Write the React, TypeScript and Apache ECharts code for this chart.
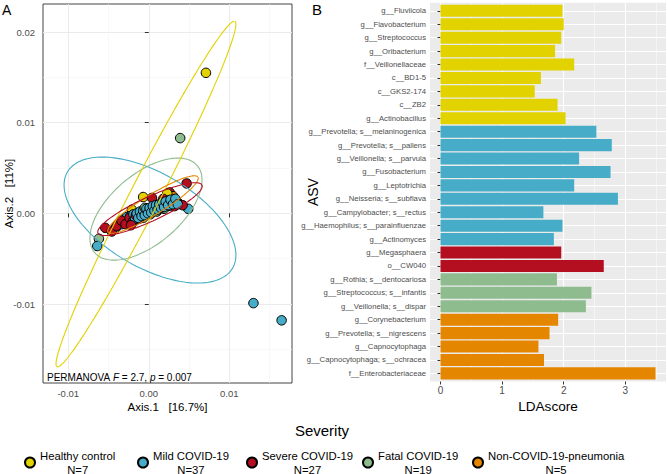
import React, { useEffect, useRef } from "react";
import * as echarts from "echarts";

const FONT = "'Liberation Sans', Arial, Helvetica, sans-serif";

// ---------- Legend groups ----------
const groupNames = ["Healthy control", "Mild COVID-19", "Severe COVID-19", "Fatal COVID-19", "Non-COVID-19-pneumonia"];
const groupCounts = [7, 37, 27, 19, 5];
const groupColors = ["#E2D200", "#46ACC8", "#B40F20", "#8FBC8F", "#E58601"];

// ---------- Panel A: PCoA points [Axis.1, Axis.2] ----------
const healthyPoints = [
  [0.0071, 0.0155], [-0.0007, 0.0018], [-0.0021, 0.0004], [0.0003, 0.0002],
  [0.0012, 0.0008], [-0.0013, -0.0003], [0.0023, 0.0022],
];
const mildPoints = [
  [0.013, -0.0099], [0.0165, -0.0118], [-0.0064, -0.0036], [0.0049, 0.0005],
  [-0.0034, -0.0012], [-0.0031, -0.0006], [-0.0029, -0.001], [-0.0027, -0.0004], [-0.0025, -0.0009],
  [-0.0023, -0.0003], [-0.0021, -0.0008], [-0.0019, -0.0001], [-0.0017, -0.0006], [-0.0015, 0.0],
  [-0.0013, -0.0005], [-0.0011, 0.0002], [-0.0009, -0.0003], [-0.0007, 0.0003], [-0.0005, -0.0002],
  [-0.0003, 0.0005], [-0.0001, 0.0], [0.0001, 0.0006], [0.0003, 0.0001], [0.0005, 0.0008],
  [0.0007, 0.0003], [0.0009, 0.0009], [0.0011, 0.0004], [0.0013, 0.001], [0.0015, 0.0006],
  [0.0017, 0.0012], [0.0019, 0.0007], [0.0021, 0.0013], [0.0024, 0.0009], [0.0027, 0.0015],
  [0.003, 0.001], [0.0033, 0.0016], [0.0036, 0.001],
];
const severePoints = [
  [0.0047, 0.0033], [0.0026, 0.0023], [-0.0054, -0.0016], [0.0036, 0.0012], [0.0042, 0.0009],
  [0.0004, 0.0017], [-0.0046, -0.002], [-0.004, -0.0014], [-0.0034, -0.0008], [-0.0029, -0.0012],
  [-0.0024, -0.0005], [-0.002, -0.0009], [-0.0016, -0.0002], [-0.0012, -0.0006], [-0.0008, 0.0001],
  [-0.0004, -0.0002], [0.0, 0.0005], [0.0004, 0.0002], [0.0008, 0.0008], [0.0012, 0.0005],
  [0.0016, 0.0011], [0.002, 0.0008], [0.0024, 0.0014], [0.0029, 0.0011], [0.0032, 0.0008],
  [-0.0022, -0.0013], [0.0018, 0.0016],
];
const fatalPoints = [
  [0.0039, 0.0083], [-0.0062, -0.0028], [-0.0041, -0.0016], [-0.0036, -0.001], [-0.003, -0.0008],
  [-0.0026, -0.0011], [-0.0021, -0.0004], [-0.0017, -0.0008], [-0.0012, -0.0001], [-0.0007, -0.0005],
  [-0.0003, 0.0003], [0.0002, -0.0001], [0.0006, 0.0006], [0.001, 0.0002], [0.0014, 0.0009],
  [0.0019, 0.0005], [0.0023, 0.0012], [0.0028, 0.0008], [-0.0005, 0.0006],
];
const pneumoniaPoints = [
  [0.0018, 0.0012], [0.0006, 0.0006], [-0.0012, -0.0004], [0.003, 0.0019], [-0.0028, -0.001],
];

// 95% ellipses: [centerX, centerY, semiAxis1X, semiAxis1Y, semiAxis2X, semiAxis2Y]
const healthyEllipse = [-0.00035, 0.00213, 0.01105, 0.01905, 0.00165, -0.00076];
const mildEllipse = [0.00015, -0.00074, 0.01026, -0.0053, -0.00294, -0.00449];
const severeEllipse = [0.00015, 0.00047, 0.00646, 0.00265, 0.00062, -0.0012];
const fatalEllipse = [-0.00035, 0.00047, 0.00637, 0.0048, 0.00281, -0.00294];
const pneumoniaEllipse = [0.00052, 0.00097, 0.00559, 0.00303, 0.00065, -0.00094];

const axis1Ticks = [-0.01, 0, 0.01];
const axis1Minor = [-0.015, -0.005, 0.005, 0.015];
const axis2Ticks = [-0.01, 0, 0.01, 0.02];
const axis2Minor = [-0.015, -0.005, 0.005, 0.015];

// ---------- Panel B: LEfSe ----------
const asvLabels = [
  "g__Fluviicola", "g__Flavobacterium", "g__Streptococcus", "g__Oribacterium", "f__Veillonellaceae",
  "c__BD1-5", "c__GKS2-174", "c__ZB2", "g__Actinobacillus",
  "g__Prevotella; s__melaninogenica", "g__Prevotella; s__pallens", "g__Veillonella; s__parvula",
  "g__Fusobacterium", "g__Leptotrichia", "g__Neisseria; s__subflava", "g__Campylobacter; s__rectus",
  "g__Haemophilus; s__parainfluenzae", "g__Actinomyces",
  "g__Megasphaera", "o__CW040",
  "g__Rothia; s__dentocariosa", "g__Streptococcus; s__infantis", "g__Veillonella; s__dispar",
  "g__Corynebacterium", "g__Prevotella; s__nigrescens", "g__Capnocytophaga",
  "g__Capnocytophaga; s__ochracea", "f__Enterobacteriaceae",
];
const ldaScores = [
  1.98, 2.0, 1.96, 1.86, 2.17, 1.63, 1.53, 1.9, 2.03,
  2.53, 2.78, 2.25, 2.76, 2.17, 2.88, 1.67, 1.98, 1.84,
  1.96, 2.65,
  1.89, 2.45, 2.36,
  1.91, 1.77, 1.59, 1.68, 3.49,
];
const asvGroup = [
  0, 0, 0, 0, 0, 0, 0, 0, 0,
  1, 1, 1, 1, 1, 1, 1, 1, 1,
  2, 2,
  3, 3, 3,
  4, 4, 4, 4, 4,
];
const ldaTicks = [0, 1, 2, 3];
const ldaMinor = [0.5, 1.5, 2.5, 3.5];

function ellipseOutline(p: number[]) {
  const [cx, cy, ax, ay, bx, by] = p;
  const pts: number[][] = [];
  const n = 160;
  for (let k = 0; k <= n; k++) {
    const t = (k / n) * 2 * Math.PI;
    pts.push([cx + ax * Math.cos(t) + bx * Math.sin(t), cy + ay * Math.cos(t) + by * Math.sin(t)]);
  }
  return pts;
}

function buildOption() {
  const pointSets = [healthyPoints, mildPoints, severePoints, fatalPoints, pneumoniaPoints];
  const ellipses = [healthyEllipse, mildEllipse, severeEllipse, fatalEllipse, pneumoniaEllipse];

  // samples interleaved across groups (plotting order of the samples)
  const maxLen = Math.max(...pointSets.map((s) => s.length));
  const samples: any[] = [];
  for (let k = 0; k < maxLen; k++) {
    for (let g = 0; g < pointSets.length; g++) {
      if (k < pointSets[g].length) {
        samples.push({ value: pointSets[g][k], itemStyle: { color: groupColors[g] } });
      }
    }
  }

  const pointStyle = { borderColor: "#000000", borderWidth: 1, opacity: 1 };
  const legendSeries = groupNames.map((name, g) => ({
    type: "scatter",
    name,
    xAxisIndex: 0,
    yAxisIndex: 0,
    data: [],
    symbol: "circle",
    symbolSize: 9.5,
    itemStyle: { color: groupColors[g], ...pointStyle, borderWidth: 0.8 },
  }));
  const sampleSeries = {
    type: "scatter",
    name: "samples",
    xAxisIndex: 0,
    yAxisIndex: 0,
    data: samples,
    symbol: "circle",
    symbolSize: 9.5,
    itemStyle: pointStyle,
    z: 2,
  };
  const ellipseSeries = [1, 3, 0, 4, 2].map((g) => ({
    type: "line",
    name: groupNames[g] + " ellipse",
    xAxisIndex: 0,
    yAxisIndex: 0,
    data: ellipseOutline(ellipses[g]),
    showSymbol: false,
    symbol: "none",
    smooth: false,
    lineStyle: { color: groupColors[g], width: 1.1 },
    z: 3,
    silent: true,
  }));

  const legendRich = {
    a: { align: "center", fontSize: 11.3, lineHeight: 14, fontFamily: FONT, color: "#000" },
  };
  const legendLefts = [24, 137, 246, 362, 472];
  const legends = groupNames.map((name, i) => ({
    data: [{ name, icon: "circle" }],
    left: legendLefts[i],
    top: 450,
    orient: "horizontal",
    itemWidth: 10,
    itemHeight: 10,
    itemGap: 5,
    padding: 0,
    selectedMode: false,
    formatter: (n: string) => `{a|${n}}\n{a|N=${groupCounts[groupNames.indexOf(n)]}}`,
    textStyle: { fontFamily: FONT, fontSize: 11.3, color: "#000", rich: legendRich },
  }));

  const tickLab = (v: number) => v.toFixed(2);

  return {
    animation: false,
    backgroundColor: "#ffffff",
    textStyle: { fontFamily: FONT },
    grid: [
      { left: 43, top: 4, width: 249, height: 379, show: true, borderColor: "#444444", borderWidth: 1, backgroundColor: "#ffffff", outerBoundsMode: "none" },
      { left: 430, top: 2.7, width: 236, height: 378.8, show: true, borderWidth: 0, backgroundColor: "#EBEBEB", outerBoundsMode: "none" },
      { left: 430, top: 4.1, width: 236, height: 376, show: false, outerBoundsMode: "none" },
    ],
    xAxis: [
      {
        gridIndex: 0, type: "value", min: -0.01314, max: 0.01779,
        axisLine: { show: false },
        axisTick: { show: true, customValues: axis1Ticks, length: 4, lineStyle: { color: "#333333", width: 1 } },
        axisLabel: { customValues: axis1Ticks, formatter: tickLab, fontSize: 9.5, color: "#4D4D4D", margin: 5, fontFamily: FONT },
        splitLine: { show: true, lineStyle: { color: "#EBEBEB", width: 1 } },
        name: "Axis.1   [16.7%]", nameLocation: "middle", nameGap: 18, nameMoveOverlap: false,
        nameTextStyle: { fontSize: 11.5, color: "#000", fontFamily: FONT },
      },
      {
        gridIndex: 0, type: "value", min: -0.01314, max: 0.01779,
        axisLine: { show: false }, axisLabel: { show: false },
        axisTick: { show: false, customValues: axis1Minor },
        splitLine: { show: true, lineStyle: { color: "#F4F4F4", width: 0.6 } },
      },
      {
        gridIndex: 1, type: "value", min: -0.17, max: 3.66,
        axisLine: { show: false },
        axisTick: { show: true, customValues: ldaTicks, length: 3, lineStyle: { color: "#333333", width: 1 } },
        axisLabel: { customValues: ldaTicks, fontSize: 10, color: "#4D4D4D", margin: 4, fontFamily: FONT },
        splitLine: { show: true, lineStyle: { color: "#FFFFFF", width: 1.1 } },
        name: "LDAscore", nameLocation: "middle", nameGap: 18, nameMoveOverlap: false,
        nameTextStyle: { fontSize: 13.6, color: "#000", fontFamily: FONT },
      },
      {
        gridIndex: 1, type: "value", min: -0.17, max: 3.66,
        axisLine: { show: false }, axisLabel: { show: false },
        axisTick: { show: false, customValues: ldaMinor },
        splitLine: { show: true, lineStyle: { color: "#FFFFFF", width: 0.5 } },
      },
      {
        gridIndex: 2, type: "value", min: -0.17, max: 3.66,
        axisLine: { show: false }, axisLabel: { show: false }, axisTick: { show: false }, splitLine: { show: false },
      },
    ],
    yAxis: [
      {
        gridIndex: 0, type: "value", min: -0.01871, max: 0.02309,
        axisLine: { show: false },
        axisTick: { show: true, customValues: axis2Ticks, length: 4, lineStyle: { color: "#333333", width: 1 } },
        axisLabel: { customValues: axis2Ticks, formatter: tickLab, fontSize: 9.5, color: "#4D4D4D", margin: 8, fontFamily: FONT },
        splitLine: { show: true, lineStyle: { color: "#EBEBEB", width: 1 } },
        name: "Axis.2   [11%]", nameLocation: "middle", nameGap: 28, nameMoveOverlap: false,
        nameTextStyle: { fontSize: 11.5, color: "#000", fontFamily: FONT },
      },
      {
        gridIndex: 0, type: "value", min: -0.01871, max: 0.02309,
        axisLine: { show: false }, axisLabel: { show: false },
        axisTick: { show: false, customValues: axis2Minor },
        splitLine: { show: true, lineStyle: { color: "#F4F4F4", width: 0.6 } },
      },
      {
        gridIndex: 1, type: "value", min: 0, max: 1, show: false,
      },
      {
        gridIndex: 2, type: "category", data: asvLabels, inverse: true,
        axisLine: { show: false },
        axisTick: { show: true, alignWithLabel: true, length: 3, lineStyle: { color: "#333333", width: 1 } },
        axisLabel: { interval: 0, fontSize: 7.7, color: "#4D4D4D", margin: 4, fontFamily: FONT },
        splitLine: { show: true, alignWithLabel: true, interval: 0, lineStyle: { color: "#FFFFFF", width: 1.1 } },
        name: "ASV", nameLocation: "middle", nameGap: 110, nameMoveOverlap: false,
        nameTextStyle: { fontSize: 14, color: "#000", fontFamily: FONT },
      },
    ],
    legend: legends,
    series: [
      ...legendSeries,
      sampleSeries,
      ...ellipseSeries,
      {
        type: "bar",
        name: "LDA",
        xAxisIndex: 4,
        yAxisIndex: 3,
        barWidth: "90%",
        data: ldaScores.map((v, i) => ({ value: v, itemStyle: { color: groupColors[asvGroup[i]] } })),
        silent: true,
      },
    ],
    graphic: [
      { type: "text", x: 2, y: 3, style: { text: "A", fontSize: 14, fill: "#000", fontFamily: FONT, align: "left", verticalAlign: "top" } },
      { type: "text", x: 312, y: 2, style: { text: "B", fontSize: 15, fill: "#000", fontFamily: FONT, align: "left", verticalAlign: "top" } },
      { type: "text", x: 322, y: 430, style: { text: "Severity", fontSize: 15, fill: "#000", fontFamily: FONT, align: "center", verticalAlign: "middle" } },
      {
        type: "text", x: 47, y: 377, z: 10,
        style: {
          text: "PERMANOVA {i|F} = 2.7, {i|p} = 0.007",
          fontSize: 10, fill: "#000", fontFamily: FONT, align: "left", verticalAlign: "middle",
          rich: { i: { fontStyle: "italic", fontSize: 10, fontFamily: FONT, fill: "#000" } },
        },
      },
    ],
  };
}

export default function App() {
  const ref = useRef<HTMLDivElement>(null);
  useEffect(() => {
    document.body.style.margin = "0";
    const chart = echarts.init(ref.current!, null, { renderer: "svg" });
    chart.setOption(buildOption() as any);
    return () => chart.dispose();
  }, []);
  return <div ref={ref} style={{ width: 668, height: 474 }} />;
}
